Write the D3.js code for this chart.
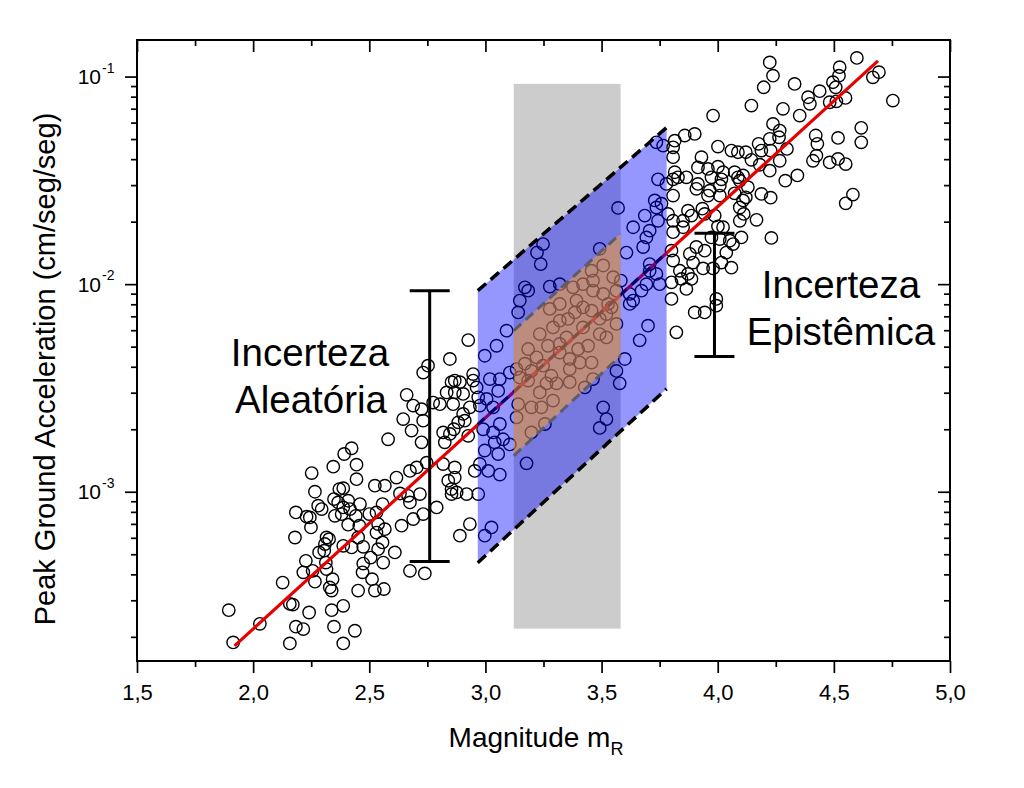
<!DOCTYPE html>
<html><head><meta charset="utf-8">
<script src="https://cdn.jsdelivr.net/npm/d3@7/dist/d3.min.js"></script>
<style>
body{margin:0;background:#fff;}
text{font-family:"Liberation Sans",Arial,Helvetica,sans-serif;fill:#000;}
</style>
</head><body>
<svg id="chart" width="1024" height="788"></svg>
<script>
// ---------------- DATA ----------------
const magnitude = [
 1.895,1.914,2.029,2.127,2.158,2.171,2.184,2.216,2.158,2.241,2.227,2.216,2.256,2.266,2.180,2.184,2.230,2.249,2.252,2.266,
 2.244,2.280,2.295,2.284,2.309,2.316,2.327,2.306,2.313,2.316,2.330,2.338,2.342,2.338,2.348,2.388,2.388,2.438,2.345,2.392,
 2.424,2.445,2.445,2.348,2.371,2.388,2.366,2.409,2.388,2.417,2.460,2.352,2.381,2.442,2.409,2.457,2.388,2.424,2.474,2.452,
 2.474,2.471,2.506,2.512,2.452,2.524,2.563,2.500,2.531,2.538,2.567,2.531,2.557,2.538,2.560,2.610,2.524,2.567,2.557,2.581,
 2.617,2.632,2.639,2.667,2.675,2.689,2.675,2.739,2.661,2.689,2.646,2.682,2.725,2.725,2.732,2.747,2.704,2.675,2.718,2.732,
 2.790,2.775,2.804,2.818,2.825,2.847,2.864,2.833,2.854,2.890,2.868,2.904,2.861,2.883,2.904,2.933,2.926,2.840,2.868,2.854,
 2.854,2.876,2.919,2.818,2.868,2.933,2.890,2.947,2.962,2.954,2.926,2.847,2.753,2.732,2.868,2.911,2.947,
 // epistemic band
 3.248,3.222,3.238,3.170,3.184,3.148,3.277,3.320,3.141,3.091,3.048,2.997,
 3.019,3.062,3.105,3.134,3.055,3.033,2.976,2.969,3.005,2.990,3.033,3.062,3.076,3.040,2.997,3.055,3.062,3.012,2.976,3.105,
 3.177,2.969,3.026,2.997,
 3.507,3.521,3.492,3.578,3.564,3.600,3.664,3.700,
 3.736,3.765,3.743,3.779,3.729,3.758,3.736,3.571,3.686,3.743,3.636,3.707,3.693,3.679,3.607,3.492,3.707,3.707,3.736,3.750,
 3.693,3.621,3.636,3.621,3.672,3.564,3.583,
 // aleatory box
 3.507,3.457,3.377,3.420,3.463,3.392,3.463,3.507,3.550,3.385,3.457,3.528,3.320,3.277,3.356,3.291,3.420,3.521,3.564,3.543,
 3.492,3.234,3.269,3.320,3.349,3.492,3.184,3.220,3.320,3.170,3.198,3.248,3.284,3.263,3.306,3.234,3.291,3.141,3.198,3.241,
 3.134,3.256,3.198,3.363,3.363,3.399,3.442,3.363,3.406,3.457,3.463,3.428,3.521,3.148,3.184,3.320,3.420,
 // upper cloud
 4.224,4.238,4.198,4.331,4.389,4.439,4.397,4.281,4.145,3.980,4.353,4.496,4.525,4.522,4.508,4.599,4.668,4.694,4.754,4.482,
 4.511,4.550,4.618,4.618,4.518,4.422,4.429,4.410,4.425,4.482,4.518,4.551,4.551,4.582,4.238,4.267,4.224,4.264,4.176,4.188,
 4.228,4.298,4.267,4.224,4.343,4.291,4.145,4.181,4.188,4.228,4.231,4.167,4.121,4.087,4.059,4.109,4.095,4.130,4.121,4.095,
 4.112,4.095,4.001,3.930,3.915,3.958,4.001,4.023,3.973,4.016,4.073,4.087,3.915,3.908,3.966,4.009,3.958,4.009,4.073,3.865,
 3.815,3.808,3.872,3.887,3.934,3.944,3.987,4.023,4.052,4.066,4.037,4.059,4.016,3.980,3.937,3.894,3.880,3.851,3.808,3.801,
 3.808,3.837,3.872,3.844,3.801,3.887,3.865,3.801,3.994,3.994,3.944,3.901,3.822,3.815,3.858,3.901,3.808,3.808,3.808,3.829,
 3.786,3.808,3.851,3.908,3.944,3.973,4.009,4.102,4.001,4.109
];
const pga = [
 2.69e-4,1.88e-4,2.31e-4,3.65e-4,2.88e-4,2.86e-4,2.24e-4,2.18e-4,1.86e-4,2.62e-4,4.65e-4,4.09e-4,4.16e-4,3.69e-4,6.02e-4,7.95e-4,7.58e-4,6.73e-4,1.23e-3,1.00e-3,
 7.52e-4,8.57e-4,8.25e-4,5.10e-4,5.60e-4,6.02e-4,5.91e-4,5.20e-4,4.56e-4,4.24e-4,3.46e-4,3.34e-4,3.79e-4,2.69e-4,2.24e-4,2.82e-4,1.86e-4,2.14e-4,1.32e-3,1.52e-3,
 1.62e-3,1.35e-3,1.15e-3,9.22e-4,1.03e-3,1.04e-3,8.88e-4,9.05e-4,8.40e-4,8.25e-4,8.72e-4,7.66e-4,7.81e-4,7.66e-4,6.94e-4,6.86e-4,5.49e-4,5.39e-4,5.43e-4,6.02e-4,
 4.51e-4,4.09e-4,4.82e-4,3.79e-4,3.34e-4,3.34e-4,3.40e-4,7.81e-4,7.95e-4,6.99e-4,6.60e-4,6.36e-4,5.70e-4,5.29e-4,4.56e-4,5.10e-4,1.07e-3,1.07e-3,8.72e-4,1.79e-3,
 1.17e-3,9.81e-4,6.86e-4,9.56e-4,8.88e-4,7.39e-4,4.16e-4,4.04e-4,2.93e-3,2.60e-3,2.24e-3,1.97e-3,1.73e-3,2.50e-3,2.20e-3,1.38e-3,1.31e-3,1.26e-3,9.75e-4,7.81e-4,
 8.40e-4,2.69e-3,2.64e-3,1.93e-3,1.73e-3,1.90e-3,2.00e-3,3.01e-3,3.37e-3,3.37e-3,3.01e-3,2.96e-3,2.64e-3,2.16e-3,2.37e-3,2.55e-3,1.86e-3,1.13e-3,1.17e-3,1.03e-3,
 9.75e-4,9.92e-4,9.75e-4,1.36e-3,1.31e-3,6.99e-4,6.14e-4,3.69e-3,3.18e-3,1.26e-3,5.38e-3,4.36e-3,4.05e-3,3.75e-3,3.43e-3,2.20e-3,3.43e-3,
 // epistemic band
 1.56e-2,1.42e-2,1.25e-2,9.65e-3,9.30e-3,8.33e-3,9.73e-3,1.00e-2,7.31e-3,5.97e-3,5.05e-3,4.52e-3,
 3.49e-3,3.49e-3,3.75e-3,3.90e-3,3.06e-3,2.55e-3,2.60e-3,2.85e-3,2.80e-3,2.00e-3,1.93e-3,2.12e-3,1.79e-3,1.73e-3,1.58e-3,1.52e-3,1.21e-3,1.26e-3,1.36e-3,1.69e-3,
 1.37e-3,9.75e-4,6.73e-4,6.14e-4,
 2.55e-3,2.24e-3,2.03e-3,3.33e-3,3.82e-3,4.36e-3,5.36e-3,6.31e-3,
 4.82e-2,4.65e-2,3.20e-2,3.04e-2,2.53e-2,2.44e-2,2.34e-2,2.33e-2,2.14e-2,2.02e-2,1.88e-2,1.81e-2,1.68e-2,1.51e-2,1.42e-2,1.48e-2,1.25e-2,1.16e-2,1.12e-2,1.00e-2,
 1.00e-2,8.97e-3,8.33e-3,8.03e-3,9.30e-3,9.30e-3,1.04e-2,
 // aleatory box
 1.23e-2,1.16e-2,9.65e-3,1.00e-2,1.04e-2,8.33e-3,9.30e-3,8.97e-3,1.08e-2,7.31e-3,7.45e-3,8.03e-3,8.03e-3,7.60e-3,6.80e-3,6.19e-3,6.19e-3,7.18e-3,6.43e-3,7.73e-3,
 6.82e-3,5.75e-3,5.05e-3,5.15e-3,5.54e-3,5.75e-3,4.87e-3,4.44e-3,4.68e-3,4.14e-3,3.82e-3,4.05e-3,3.62e-3,3.33e-3,3.33e-3,3.01e-3,2.75e-3,2.64e-3,2.55e-3,2.55e-3,
 2.28e-3,2.12e-3,1.93e-3,3.37e-3,3.90e-3,4.87e-3,5.05e-3,4.36e-3,4.19e-3,4.19e-3,3.49e-3,3.18e-3,5.54e-3,3.55e-3,3.43e-3,6.67e-3,7.73e-3,
 // upper cloud
 0.117,0.101,0.0888,0.0922,0.0795,0.0850,0.0739,0.0699,0.0725,0.0649,0.0649,0.0939,0.111,0.101,0.0888,0.123,0.0992,0.105,0.0766,0.0752,
 0.0760,0.0789,0.0566,0.0482,0.0506,0.0520,0.0474,0.0393,0.0416,0.0386,0.0401,0.0379,0.0245,0.0270,0.0591,0.0549,0.0501,0.0510,0.0474,0.0440,
 0.0440,0.0448,0.0393,0.0352,0.0334,0.0315,0.0397,0.0376,0.0272,0.0261,0.0167,0.0204,0.0432,0.0432,0.0440,0.0334,0.0315,0.0293,0.0262,0.0234,
 0.0218,0.0202,0.0460,0.0409,0.0365,0.0359,0.0368,0.0346,0.0327,0.0320,0.0346,0.0327,0.0304,0.0288,0.0282,0.0298,0.0267,0.0267,0.0274,0.0327,
 0.0346,0.0267,0.0226,0.0214,0.0231,0.0218,0.0214,0.0188,0.0162,0.0156,0.0142,0.0120,0.0127,0.0119,0.0119,0.0127,0.0140,0.0188,0.0178,0.0145,
 0.0130,0.0116,0.0112,0.0106,0.0102,0.0106,9.48e-3,8.49e-3,8.49e-3,7.88e-3,7.31e-3,7.31e-3,5.86e-3,0.0491,0.0520,0.0529,0.0456,0.0409,0.0320,0.0327,
 0.0218,0.0202,0.0202,0.0151,0.0145,0.0168,0.0165,0.0168,0.0190,0.0253
];

// regression line (end points)
const fitMag = [1.92, 4.69];
const fitPga = [1.81e-4, 0.119];
// epistemic uncertainty band (parallelogram)
const epiMag = [2.967, 3.78];
const epiUpper = [9.3e-3, 0.0568];
const epiCenter = [2.11e-3, 0.01416];
const epiLower = [4.55e-4, 3.13e-3];
// aleatory box (parallelogram) and grey column
const aleaMag = [3.122, 3.582];
const aleaUpper = [5.97e-3, 0.0175];
const aleaLower = [1.49e-3, 4.52e-3];
const greyPga = [2.19e-4, 0.0922];
// uncertainty bars
const barMag = [2.76, 3.986];
const barLow = [4.61e-4, 4.48e-3];
const barHigh = [9.3e-3, 0.01757];
// axes
const xMajor = [1.5, 2.0, 2.5, 3.0, 3.5, 4.0, 4.5, 5.0];
const xMajorLabels = ["1,5","2,0","2,5","3,0","3,5","4,0","4,5","5,0"];
const xMinor = [1.75, 2.25, 2.75, 3.25, 3.75, 4.25, 4.75];
const yMajor = [1e-3, 1e-2, 1e-1];
const yMajorExp = ["-3", "-2", "-1"];
const yMinor = [2e-4,3e-4,4e-4,5e-4,6e-4,7e-4,8e-4,9e-4,2e-3,3e-3,4e-3,5e-3,6e-3,7e-3,8e-3,9e-3,2e-2,3e-2,4e-2,5e-2,6e-2,7e-2,8e-2,9e-2];

// ---------------- LAYOUT ----------------
const L = 137, R = 950, T = 40, B = 661;
const svg = d3.select("#chart");
const x = d3.scaleLinear().domain([1.5, 5.0]).range([L, R]);
const y = d3.scaleLog().domain([1.53e-4, 0.15]).range([B, T]);

// grey column
svg.append("rect")
  .attr("x", x(aleaMag[0])).attr("width", x(aleaMag[1]) - x(aleaMag[0]))
  .attr("y", y(greyPga[1])).attr("height", y(greyPga[0]) - y(greyPga[1]))
  .attr("fill", "#cccccc");

// scatter
const pts = magnitude.map((m, i) => ({m, v: pga[i]}));
svg.append("g").selectAll("circle").data(pts).join("circle")
  .attr("cx", d => x(d.m)).attr("cy", d => y(d.v)).attr("r", 6.2)
  .attr("fill", "none").attr("stroke", "#000").attr("stroke-width", 1.4);

// regression line
const line = d3.line().x(d => x(d[0])).y(d => y(d[1]));
svg.append("path").attr("d", line(fitMag.map((m, i) => [m, fitPga[i]])))
  .attr("stroke", "#e60000").attr("stroke-width", 3.2).attr("fill", "none");
// central dashed line of the band
svg.append("path").attr("d", line(epiMag.map((m, i) => [m, epiCenter[i]])))
  .attr("stroke", "#000").attr("stroke-width", 3).attr("stroke-dasharray", "9,7").attr("fill", "none");

// epistemic band
const poly = (mags, up, lo) => [[mags[0], up[0]], [mags[1], up[1]], [mags[1], lo[1]], [mags[0], lo[0]]]
  .map(p => [x(p[0]), y(p[1])].join(",")).join(" ");
svg.append("polygon").attr("points", poly(epiMag, epiUpper, epiLower))
  .attr("fill", "#0000ff").attr("fill-opacity", 0.41);
svg.append("path").attr("d", line(epiMag.map((m, i) => [m, epiUpper[i]])))
  .attr("stroke", "#000").attr("stroke-width", 3.5).attr("stroke-dasharray", "11,6").attr("fill", "none");
svg.append("path").attr("d", line(epiMag.map((m, i) => [m, epiLower[i]])))
  .attr("stroke", "#000").attr("stroke-width", 3.5).attr("stroke-dasharray", "11,6").attr("fill", "none");

// aleatory box
svg.append("polygon").attr("points", poly(aleaMag, aleaUpper, aleaLower))
  .attr("fill", "#ffa01e").attr("fill-opacity", 0.5);
svg.append("path").attr("d", line(aleaMag.map((m, i) => [m, aleaUpper[i]])))
  .attr("stroke", "#5c5c6c").attr("stroke-width", 3).attr("stroke-dasharray", "10,6").attr("fill", "none");
svg.append("path").attr("d", line(aleaMag.map((m, i) => [m, aleaLower[i]])))
  .attr("stroke", "#5c5c6c").attr("stroke-width", 3).attr("stroke-dasharray", "10,6").attr("fill", "none");

// uncertainty bars
const bars = svg.append("g").attr("stroke", "#000").attr("stroke-width", 3);
barMag.forEach((m, i) => {
  const cx = x(m), y1 = y(barHigh[i]), y2 = y(barLow[i]);
  bars.append("line").attr("x1", cx).attr("x2", cx).attr("y1", y1).attr("y2", y2);
  bars.append("line").attr("x1", cx - 20).attr("x2", cx + 20).attr("y1", y1).attr("y2", y1);
  bars.append("line").attr("x1", cx - 20).attr("x2", cx + 20).attr("y1", y2).attr("y2", y2);
});

// annotations
const ann = svg.append("g").attr("text-anchor", "middle").style("font-size", "38.5px");
ann.append("text").attr("x", 310).attr("y", 366).text("Incerteza");
ann.append("text").attr("x", 311).attr("y", 413).text("Aleatória");
ann.append("text").attr("x", 841).attr("y", 298).text("Incerteza");
ann.append("text").attr("x", 841).attr("y", 345).text("Epistêmica");

// ---------------- AXES ----------------
const styleAxis = g => { g.select(".domain").remove(); g.selectAll(".tick line").attr("stroke", "#000").attr("stroke-width", 1.7); };
// bottom
svg.append("g").attr("transform", `translate(0,${B})`)
  .call(d3.axisBottom(x).tickValues(xMajor).tickSize(12).tickFormat((d, i) => xMajorLabels[i]))
  .call(styleAxis)
  .call(g => g.selectAll("text").attr("y", 39).attr("dy", null).style("font-size", "22px")
    .style("font-family", "'Liberation Sans',Arial,sans-serif").attr("fill", "#000"));
svg.append("g").attr("transform", `translate(0,${B})`)
  .call(d3.axisBottom(x).tickValues(xMinor).tickSize(6).tickFormat("")).call(styleAxis);
// top (inward)
svg.append("g").attr("transform", `translate(0,${T})`)
  .call(d3.axisTop(x).tickValues(xMajor).tickSize(-12).tickFormat("")).call(styleAxis);
svg.append("g").attr("transform", `translate(0,${T})`)
  .call(d3.axisTop(x).tickValues(xMinor).tickSize(-6).tickFormat("")).call(styleAxis);
// left
svg.append("g").attr("transform", `translate(${L},0)`)
  .call(d3.axisLeft(y).tickValues(yMajor).tickSize(12).tickFormat("")).call(styleAxis);
svg.append("g").attr("transform", `translate(${L},0)`)
  .call(d3.axisLeft(y).tickValues(yMinor).tickSize(6).tickFormat("")).call(styleAxis);
// right (inward)
svg.append("g").attr("transform", `translate(${R},0)`)
  .call(d3.axisRight(y).tickValues(yMajor).tickSize(-12).tickFormat("")).call(styleAxis);
svg.append("g").attr("transform", `translate(${R},0)`)
  .call(d3.axisRight(y).tickValues(yMinor).tickSize(-6).tickFormat("")).call(styleAxis);

// y tick labels 10^n
const yl = svg.append("g");
yMajor.forEach((v, i) => {
  yl.append("text").attr("x", 101).attr("y", y(v) + 7.5).attr("text-anchor", "end").style("font-size", "21px").text("10");
  yl.append("text").attr("x", 102).attr("y", y(v) - 4).style("font-size", "14px").text(yMajorExp[i]);
});

// frame
svg.append("rect").attr("x", L).attr("y", T).attr("width", R - L).attr("height", B - T)
  .attr("fill", "none").attr("stroke", "#000").attr("stroke-width", 2);

// axis titles
const xt = svg.append("text").attr("x", 536).attr("y", 747).attr("text-anchor", "middle").style("font-size", "28px");
xt.append("tspan").text("Magnitude m");
xt.append("tspan").attr("dy", 8).style("font-size", "18px").text("R");
svg.append("text").attr("transform", "translate(55,369) rotate(-90)").attr("text-anchor", "middle")
  .style("font-size", "29px").text("Peak Ground Acceleration (cm/seg/seg)");
</script>
</body></html>
